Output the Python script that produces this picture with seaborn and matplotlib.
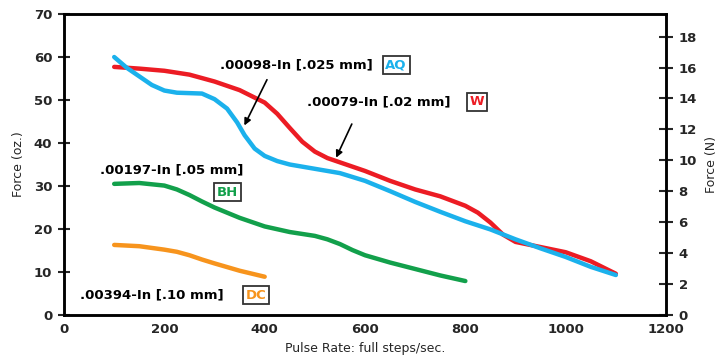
import matplotlib
matplotlib.use("Agg")
import matplotlib.pyplot as plt
import seaborn as sns
import numpy as np
import pandas as pd

# pulse rate (full steps/sec) vs force (oz.)
w_x = [100, 150, 200, 250, 300, 350, 400, 425, 450, 475, 500, 525, 550, 600, 650, 700, 750, 800,
       825, 850, 875, 900, 950, 1000, 1050, 1100]
w_y = [57.7, 57.3, 56.8, 55.9, 54.3, 52.3, 49.4, 46.8, 43.5, 40.3, 38.0, 36.5, 35.5, 33.5, 31.2, 29.2, 27.6, 25.4,
       23.8, 21.5, 18.7, 17.0, 15.8, 14.6, 12.5, 9.6]

aq_x = [100, 125, 150, 175, 200, 225, 250, 275, 300, 325, 345, 360, 380, 400, 425, 450, 500, 550, 600, 650,
        700, 750, 800, 850, 900, 950, 1000, 1050, 1100]
aq_y = [60.0, 57.5, 55.5, 53.5, 52.2, 51.7, 51.6, 51.5, 50.2, 48.0, 44.8, 41.8, 38.7, 37.0, 35.8, 35.0, 34.0, 33.0, 31.2, 28.8,
        26.3, 24.0, 21.8, 19.9, 17.6, 15.5, 13.5, 11.2, 9.3]

bh_x = [100, 150, 200, 225, 250, 275, 300, 350, 400, 450, 500, 525, 550, 575, 600, 650, 700, 750, 800]
bh_y = [30.5, 30.7, 30.1, 29.2, 27.9, 26.4, 25.0, 22.6, 20.6, 19.3, 18.4, 17.6, 16.5, 15.1, 13.9, 12.2, 10.7, 9.2, 7.9]

dc_x = [100, 150, 200, 225, 250, 275, 300, 350, 400]
dc_y = [16.3, 16.0, 15.2, 14.7, 13.9, 12.9, 12.0, 10.3, 8.9]

labels = {"AQ": ".00098-In [.025 mm]", "W": ".00079-In [.02 mm]",
          "BH": ".00197-In [.05 mm]", "DC": ".00394-In [.10 mm]"}
colors = {"W": "#ec1c24", "AQ": "#1bb1ec", "BH": "#12a04b", "DC": "#f7941d"}

OZ_PER_N = 3.59694

frames = []
for name, xs, ys in [("W", w_x, w_y), ("AQ", aq_x, aq_y), ("BH", bh_x, bh_y), ("DC", dc_x, dc_y)]:
    frames.append(pd.DataFrame({"rate": xs, "force": ys, "series": name}))
df = pd.concat(frames, ignore_index=True)

sns.set_style("white")
plt.rcParams['font.family'] = ['DejaVu Sans']

fig = plt.figure(figsize=(7.17, 3.63), dpi=100)
ax = fig.add_axes([0.0893, 0.1322, 0.8396, 0.8292])

sns.lineplot(data=df, x="rate", y="force", hue="series", hue_order=["W", "AQ", "BH", "DC"],
             palette=colors, linewidth=3.2, legend=False, ax=ax, sort=False,
             solid_capstyle="round", solid_joinstyle="round")

ax.set_xlim(0, 1200)
ax.set_ylim(0, 70)
ax.set_xticks(np.arange(0, 1201, 200))
ax.set_yticks(np.arange(0, 71, 10))
for s in ax.spines.values():
    s.set_color("black")
    s.set_linewidth(1.8)
    s.set_visible(True)

ax.tick_params(axis="x", direction="in", length=7, width=1.5, labelsize=9.5, pad=6)
ax.tick_params(axis="y", direction="inout", length=9, width=1.5, labelsize=9.5, pad=4)
for lbl in ax.get_xticklabels() + ax.get_yticklabels():
    lbl.set_fontweight("bold")

ax.set_xlabel("Pulse Rate: full steps/sec.", fontsize=9, labelpad=4)
ax.set_ylabel("Force (oz.)", fontsize=9, labelpad=6)

ax2 = ax.twinx()
ax2.set_ylim(0, 70 / OZ_PER_N)
ax2.set_yticks(np.arange(0, 19, 2))
ax2.tick_params(axis="y", direction="inout", length=10, width=1.5, labelsize=9.5, pad=4)
for lbl in ax2.get_yticklabels():
    lbl.set_fontweight("bold")
ax2.set_ylabel("Force (N)", fontsize=9, rotation=90, labelpad=6)
for s in ax2.spines.values():
    s.set_color("black")
    s.set_linewidth(1.8)

txt = dict(fontsize=9.5, fontweight="bold", color="black", va="center")
box = dict(fontsize=9.5, fontweight="bold", va="center", ha="center")

def boxed():
    return dict(boxstyle="square,pad=0.2", facecolor="white", edgecolor="#333333", linewidth=1.3)

ax.text(311, 58.1, labels["AQ"], ha="left", **txt)
ax.text(662, 58.1, "AQ", color=colors["AQ"], bbox=boxed(), **box)
ax.annotate("", xy=(357, 43.5), xytext=(407, 55.3),
            arrowprops=dict(arrowstyle="-|>", color="black", lw=1.2, mutation_scale=10))

ax.text(484, 49.6, labels["W"], ha="left", **txt)
ax.text(823, 49.6, "W", color=colors["W"], bbox=boxed(), **box)
ax.annotate("", xy=(540, 36), xytext=(576, 45),
            arrowprops=dict(arrowstyle="-|>", color="black", lw=1.2, mutation_scale=10))

ax.text(72, 33.7, labels["BH"], ha="left", **txt)
ax.text(326, 28.6, "BH", color=colors["BH"], bbox=boxed(), **box)

ax.text(32, 4.65, labels["DC"], ha="left", **txt)
ax.text(383, 4.65, "DC", color=colors["DC"], bbox=boxed(), **box)

fig.savefig("out.png", dpi=100)
